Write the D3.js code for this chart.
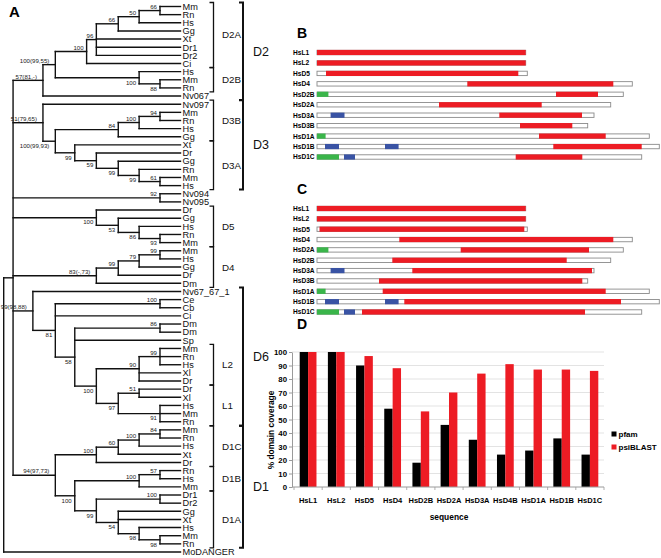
<!DOCTYPE html>
<html><head><meta charset="utf-8">
<script src="https://cdn.jsdelivr.net/npm/d3@7"></script>
<style>
body{margin:0;background:#fff}
svg{display:block}
text{font-family:"Liberation Sans",Arial,Helvetica,sans-serif}
</style>
</head><body>
<svg id="c" width="661" height="558"></svg>
<script>
// ---------------- DATA ----------------
// Panel A: phylogenetic tree (d = node depth on a 0..100 scale, b = bootstrap label, lo = label under branch)
function T(d, b, lo, kids){ return {d:d, b:b, lo:lo, children:kids.map(k => typeof k === "string" ? {name:k} : k)}; }
const treeData = T(0,"",0,[
  T(5.3,"",0,[
    T(22.2,"57(81,-)",0,[
      T(29.2,"100(99,55)",0,[
        T(46.9,"100",0,[
          T(52.4,"96",0,[
            T(64.8,"66",0,[ T(76.6,"50",0,[ T(88.4,"66",0,["Mm","Rn"]), "Hs"]), "Gg"]),
            "Xt","Dr1","Dr2"]),
          "Ci"]),
        T(76.6,"100",1,["Hs", T(88.4,"88",1,["Mm","Rn"])])
      ]),
      "Nv067"]),
    T(22.2,"51(79,65)",0,[
      "Nv097",
      T(29.2,"100(99,93)",1,[
        T(64.8,"84",0,[ T(76.6,"100",0,[ T(88.4,"94",0,["Mm","Rn"]), "Hs"]), "Gg"]),
        T(40.2,"99",1,["Xt", T(52.4,"59",1,["Dr", T(64.8,"99",1,["Gg", T(76.6,"99",1,["Rn", T(88.4,"61",0,["Mm","Hs"])])])])])
      ])
    ]),
    T(88.4,"92",0,["Nv094","Nv095"]),
    T(52.4,"100",1,["Dr", T(64.8,"53",1,["Gg", T(76.6,"86",1,["Hs", T(88.4,"93",1,["Rn","Mm"])])])]),
    T(52.4,"83(-,73)",0,[ T(64.8,"99",0,[ T(76.6,"79",0,[ T(88.4,"99",0,["Mm","Hs"]), "Gg"]), "Dr"]), "Dm"]),
    T(16.5,"99(98,88)",0,["Nv67_67_1",
      T(29.2,"81",1,[
        T(88.4,"100",0,["Ce","Cb"]),
        "Ci",
        T(40.2,"58",1,[
          T(88.4,"86",0,["Dm","Dm"]),
          "Sp",
          T(52.4,"100",1,[
            T(76.6,"90",0,[ T(88.4,"99",0,["Mm","Rn","Hs"]), "Xl","Dr"]),
            T(64.8,"97",1,[ T(76.6,"51",0,["Dr","Xl"]), T(88.4,"91",1,["Hs","Mm","Rn"]) ])
          ])
        ])
      ])
    ]),
    T(29.2,"94(97,73)",0,[
      T(52.4,"100",0,[ T(64.8,"60",0,[ T(76.6,"100",0,[ T(88.4,"84",0,["Mm","Rn"]), "Hs"]), "Xt"]), "Dr"]),
      T(40.2,"100",1,[
        T(76.6,"100",0,[ T(88.4,"57",0,["Rn","Hs"]), "Mm"]),
        T(52.4,"99",1,[
          T(88.4,"100",0,["Dr1","Dr2"]),
          T(64.8,"54",1,["Gg","Xt", T(76.6,"98",1,["Hs", T(88.4,"98",1,["Mm","Rn"])])])
        ])
      ])
    ])
  ]),
  "MoDANGER"
]);
// clade brackets: leaf-row ranges
const cladeNames  = ["D2A","D2B","D2","D3B","D3A","D3","D5","D4","L2","L1","D6","D1C","D1B","D1A","D1"];
const cladeFrom   = [0, 8, 0, 12, 17, 12, 25, 30, 42, 47, 35, 52, 57, 60, 52];
const cladeTo     = [7, 10, 11, 16, 22, 22, 29, 34, 46, 51, 51, 56, 59, 66, 66];
const cladeOuter  = [0, 0, 1, 0, 0, 1, 0, 0, 0, 0, 1, 0, 0, 0, 1];

// Panel B: domain architecture (positions along sequence); segments [type,start,end]
const labelsB  = ["HsL1","HsL2","HsD5","HsD4","HsD2B","HsD2A","HsD3A","HsD3B","HsD1A","HsD1B","HsD1C"];
const lengthsB = [208.7, 208.7, 210.3, 315.3, 306.3, 293.7, 277, 270.7, 332.3, 342.3, 324.7];
const segmentsB = [
  [["r",0,208.7]],
  [["r",0,208.7]],
  [["r",9,201.3]],
  [["r",150.3,296.3]],
  [["g",0,11.4],["r",239,281]],
  [["r",122,224.7]],
  [["b",13.6,27.5],["r",182.3,265]],
  [["r",203,255.3]],
  [["g",0,8.6],["r",222,288.7]],
  [["b",8,22],["b",68,81.6],["r",236.3,324.7]],
  [["g",0,22],["b",27,38],["r",198.7,265.3]]
];
// Panel C
const labelsC  = ["HsL1","HsL2","HsD5","HsD4","HsD2A","HsD2B","HsD3A","HsD3B","HsD1A","HsD1B","HsD1C"];
const lengthsC = [208.7, 208.7, 210.3, 315.3, 306.3, 293.7, 277, 270.7, 332.3, 342.3, 324.7];
const segmentsC = [
  [["r",0,208.7]],
  [["r",0,208.7]],
  [["r",2.5,207.3]],
  [["r",82.3,296.3]],
  [["g",0,11.4],["r",143.7,272]],
  [["r",75.3,249.7]],
  [["b",13.6,27.5],["r",95.3,275]],
  [["r",62,265.3]],
  [["g",0,8.6],["r",65.7,288.7]],
  [["b",8,22],["b",68,81.6],["r",87.3,304]],
  [["g",0,22],["b",27,38],["r",45,268]]
];

// Panel D: % domain coverage
const categoriesD = ["HsL1","HsL2","HsD5","HsD4","HsD2B","HsD2A","HsD3A","HsD4B","HsD1A","HsD1B","HsD1C"];
const seriesD = ["pfam","psiBLAST"];
const pfam     = [100, 100, 90, 58, 18, 46, 35, 24, 27, 36, 24];
const psiBLAST = [100, 100, 97, 88, 56, 70, 84, 91, 87, 87, 86];
const yTicksD  = [0,10,20,30,40,50,60,70,80,90,100];

// ---------------- DRAW ----------------
const svg = d3.select("#c");
svg.append("rect").attr("width",661).attr("height",558).attr("fill","#fff");
const RED="#ed1c24", GREEN="#3ab54a", BLUE="#3953a4";
const segColor = {r:RED, g:GREEN, b:BLUE};

// ===== Panel A =====
svg.append("text").attr("x",9).attr("y",17).attr("font-size",15).attr("font-weight","bold").text("A");
const xT = d3.scaleLinear().domain([0,100]).range([3.7,180.5]);
const root = d3.hierarchy(treeData);
const leaves = root.leaves();
const yT = d3.scaleLinear().domain([0, leaves.length-1]).range([6.5, 552]);
leaves.forEach((l,i)=>{ l.y = yT(i); l.x = xT(100); });
root.eachAfter(n=>{ if(n.children){ const c=n.children; n.y=(c[0].y+c[c.length-1].y)/2; n.x=xT(n.data.d);} });

const gT = svg.append("g").attr("stroke","#111").attr("stroke-width",1.4).attr("fill","none").attr("stroke-linecap","square");
root.each(n=>{
  if(!n.children) return;
  const c=n.children;
  gT.append("line").attr("x1",n.x).attr("x2",n.x).attr("y1",c[0].y).attr("y2",c[c.length-1].y);
  c.forEach(ch=>gT.append("line").attr("x1",n.x).attr("x2",ch.x).attr("y1",ch.y).attr("y2",ch.y));
});
svg.append("g").selectAll("text").data(leaves).join("text")
  .attr("x", d=>d.x+2).attr("y", d=>d.y+3.3).attr("font-size",9.2).attr("fill","#111")
  .text(d=>d.data.name);
svg.append("g").selectAll("text").data(root.descendants().filter(n=>n.children && n.data.b)).join("text")
  .attr("x", d=>d.x - (d.data.b.length>4 ? 6 : 3)).attr("y", d=>d.data.lo ? d.y+6.8 : d.y-1.8)
  .attr("text-anchor","end").attr("font-size",6.1).attr("fill","#222")
  .text(d=>d.data.b);

// brackets
const gB = svg.append("g");
cladeNames.forEach((nm,i)=>{
  const outer = cladeOuter[i];
  const bx = outer ? 243 : 213.5;
  const y1 = yT(cladeFrom[i]) - 4, y2 = yT(cladeTo[i]) + 4;
  gB.append("path").attr("d", `M${bx-4},${y1}H${bx}V${y2}H${bx-4}`)
    .attr("fill","none").attr("stroke","#111").attr("stroke-width", outer?2:1.3);
  gB.append("text").attr("x", outer?253:222).attr("y",(y1+y2)/2 + (outer?4.5:3.5))
    .attr("font-size", outer?12.5:9.8).attr("fill","#111").text(nm);
});

// ===== Panels B & C =====
function domainPanel(letter, letterY, labels, lengths, segs, yTop, yBot){
  svg.append("text").attr("x",297).attr("y",letterY).attr("font-size",14).attr("font-weight","bold").text(letter);
  const xs = d3.scaleLinear().domain([0,342.3]).range([317,659.3]);
  const ys = d3.scalePoint().domain(labels).range([yTop,yBot]);
  const g = svg.append("g");
  labels.forEach((lb,i)=>{
    const yc = ys(lb);
    g.append("text").attr("x",293).attr("y",yc+2.4).attr("font-size",6.6).attr("font-weight","bold").text(lb);
    g.append("rect").attr("x",xs(0)).attr("y",yc-2.2).attr("width",xs(lengths[i])-xs(0)).attr("height",4.4)
      .attr("fill","#fff").attr("stroke","#8a8a8a").attr("stroke-width",0.9);
    segs[i].forEach(s=>{
      g.append("rect").attr("x",xs(s[1])).attr("y",yc-2.6).attr("width",xs(s[2])-xs(s[1])).attr("height",5.2)
        .attr("fill",segColor[s[0]]);
    });
  });
}
domainPanel("B", 38, labelsB, lengthsB, segmentsB, 52.5, 157);
domainPanel("C", 194, labelsC, lengthsC, segmentsC, 208.5, 312);

// ===== Panel D =====
svg.append("text").attr("x",297).attr("y",329).attr("font-size",14).attr("font-weight","bold").text("D");
const AX = 292;
const x0 = d3.scaleBand().domain(categoriesD).range([294,604]);
const x1 = d3.scaleBand().domain(seriesD).range([0,x0.bandwidth()]).paddingOuter(0.68);
const yD = d3.scaleLinear().domain([0,100]).range([487,352]);
const gD = svg.append("g");
gD.selectAll("line.grid").data(yTicksD.slice(1)).join("line")
  .attr("x1",AX).attr("x2",604).attr("y1",d=>yD(d)).attr("y2",d=>yD(d))
  .attr("stroke","#dcdcdc").attr("stroke-width",0.8);
const vals = {pfam:pfam, psiBLAST:psiBLAST};
const colD = {pfam:"#000", psiBLAST:RED};
categoriesD.forEach((c,i)=>{
  seriesD.forEach(s=>{
    gD.append("rect").attr("x",x0(c)+x1(s)).attr("width",x1.bandwidth())
      .attr("y",yD(vals[s][i])).attr("height",yD(0)-yD(vals[s][i])).attr("fill",colD[s]);
  });
});
const ax = gD.append("g").attr("transform",`translate(${AX},0)`)
  .call(d3.axisLeft(yD).tickValues(yTicksD).tickSize(3).tickSizeOuter(0).tickPadding(2));
ax.select(".domain").attr("stroke","#9a9a9a");
ax.selectAll(".tick line").attr("stroke","#9a9a9a");
ax.selectAll(".tick text").attr("font-size",7.8).attr("font-weight","bold").attr("fill","#000")
  .attr("font-family",'"Liberation Sans",Arial,sans-serif');
gD.append("line").attr("x1",AX).attr("x2",604).attr("y1",487).attr("y2",487).attr("stroke","#9a9a9a");
const bx = gD.append("g").attr("transform","translate(0,487)")
  .call(d3.axisBottom(x0).tickSize(0).tickPadding(11));
bx.select(".domain").remove();
bx.selectAll(".tick text").attr("font-size",7.5).attr("font-weight","bold").attr("fill","#000")
  .attr("font-family",'"Liberation Sans",Arial,sans-serif');
gD.selectAll("line.xt").data(categoriesD.map(c=>x0(c)).concat([x0.range()[1]])).join("line")
  .attr("x1",d=>d).attr("x2",d=>d).attr("y1",487).attr("y2",490).attr("stroke","#9a9a9a").attr("stroke-width",0.8);
svg.append("text").attr("x",449).attr("y",520).attr("text-anchor","middle")
  .attr("font-size",8.4).attr("font-weight","bold").text("sequence");
svg.append("text").attr("transform",`translate(273.5,430) rotate(-90)`).attr("text-anchor","middle")
  .attr("font-size",8.4).attr("font-weight","bold").text("% domain coverage");
seriesD.forEach((s,i)=>{
  const ly = 434 + i*13;
  svg.append("rect").attr("x",611.5).attr("y",ly-2.5).attr("width",5).attr("height",5).attr("fill",colD[s]);
  svg.append("text").attr("x",618.5).attr("y",ly+2.9).attr("font-size",8).attr("font-weight","bold").text(s);
});
</script>
</body></html>
